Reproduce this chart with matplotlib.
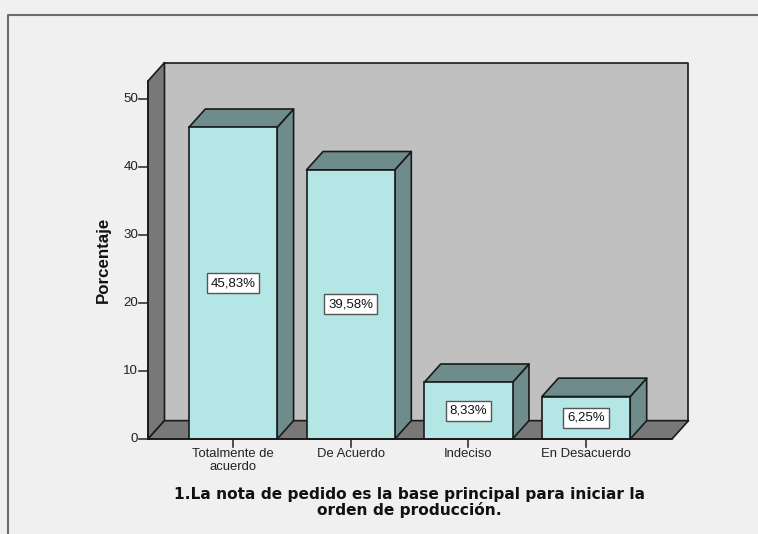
import matplotlib
matplotlib.use("Agg")
import matplotlib.pyplot as plt
from matplotlib.patches import Polygon, Rectangle
from matplotlib.lines import Line2D

categories = ["Totalmente de\nacuerdo", "De Acuerdo", "Indeciso", "En Desacuerdo"]
values = [45.83, 39.58, 8.33, 6.25]
value_labels = ["45,83%", "39,58%", "8,33%", "6,25%"]
y_ticks = [0, 10, 20, 30, 40, 50]
title = "1.La nota de pedido es la base principal para iniciar la\norden de producción."

W, H = 758, 534
BG = "#f0f0f0"
WALL = "#c0c0c0"
SIDE = "#787878"
BAR = "#b4e6e6"
BAR_DARK = "#6e8c8c"
EDGE = "#1a1a1a"
TXT = "#222222"

plt.rcParams["font.family"] = ["Liberation Sans", "DejaVu Sans"]

fig = plt.figure(figsize=(W / 100, H / 100), dpi=100, facecolor=BG)

# outer frame, open on the right and bottom
fig.add_artist(Line2D([7.5 / W, 7.5 / W, 1], [0, 1 - 14.5 / H, 1 - 14.5 / H],
                      color="#6e6e6e", lw=1.5, transform=fig.transFigure))

ax = fig.add_axes([148 / W, 1 - 439 / H, (672 - 148) / W, (439 - 81) / H])
ax.set_xlim(-0.722, 3.73)
ax.set_ylim(0, 52.65)
ax.axis("off")

# depth of the 3D box, in data units
dx, dy = 0.14, 2.7
bar_w = 0.75
x0, x1 = ax.get_xlim()
y0, y1 = ax.get_ylim()


def poly(pts, fc, z=1):
    ax.add_patch(Polygon(pts, closed=True, fc=fc, ec=EDGE, lw=1.2,
                         clip_on=False, zorder=z, joinstyle="round"))


# back wall, left wall, floor
poly([(x0 + dx, y0 + dy), (x1 + dx, y0 + dy), (x1 + dx, y1 + dy), (x0 + dx, y1 + dy)], WALL)
poly([(x0, y0), (x0 + dx, y0 + dy), (x0 + dx, y1 + dy), (x0, y1)], SIDE)
poly([(x0, y0), (x1, y0), (x1 + dx, y0 + dy), (x0 + dx, y0 + dy)], SIDE)

for i, v in enumerate(values):
    l, r = i - bar_w / 2, i + bar_w / 2
    poly([(r, 0), (r + dx, dy), (r + dx, v + dy), (r, v)], BAR_DARK, 3)
    poly([(l, v), (r, v), (r + dx, v + dy), (l + dx, v + dy)], BAR_DARK, 3)
    ax.add_patch(Rectangle((l, 0), bar_w, v, fc=BAR, ec=EDGE, lw=1.2, zorder=4, clip_on=False))
    ax.text(i, v / 2, value_labels[i], ha="center", va="center", fontsize=9.5, color="#111111",
            zorder=6, bbox=dict(boxstyle="square,pad=0.3", fc="white", ec="#555555", lw=1))

# axes drawn by hand so they sit on the front edge of the box
ax.plot([x0, x1], [0, 0], color=EDGE, lw=1.2, clip_on=False, zorder=5)
ax.plot([x0, x0], [0, y1], color=EDGE, lw=1.2, clip_on=False, zorder=5)
trans_y = ax.get_yaxis_transform()
trans_x = ax.get_xaxis_transform()
for t in y_ticks:
    ax.plot([-0.017, 0], [t, t], transform=trans_y, color="#333333", lw=1.2, clip_on=False)
    ax.text(-0.019, t, str(t), transform=trans_y, ha="right", va="center", fontsize=9.6, color=TXT)
for i, c in enumerate(categories):
    ax.plot([i, i], [0, -0.022], transform=trans_x, color="#333333", lw=1.2, clip_on=False)
    ax.text(i, -0.025, c, transform=trans_x, ha="center", va="top", fontsize=9.4,
            color=TXT, linespacing=1.12)

fig.text(103.5 / W, 1 - 260 / H, "Porcentaje", rotation=90, ha="center", va="center",
         fontsize=12.2, fontweight="bold", color="#111111")
fig.text(409.5 / W, 1 - 502 / H, title, ha="center", va="center", fontsize=11.05,
         fontweight="bold", color="#111111", linespacing=1.0, family="DejaVu Sans")

fig.savefig("out.png", dpi=100, facecolor=BG)
